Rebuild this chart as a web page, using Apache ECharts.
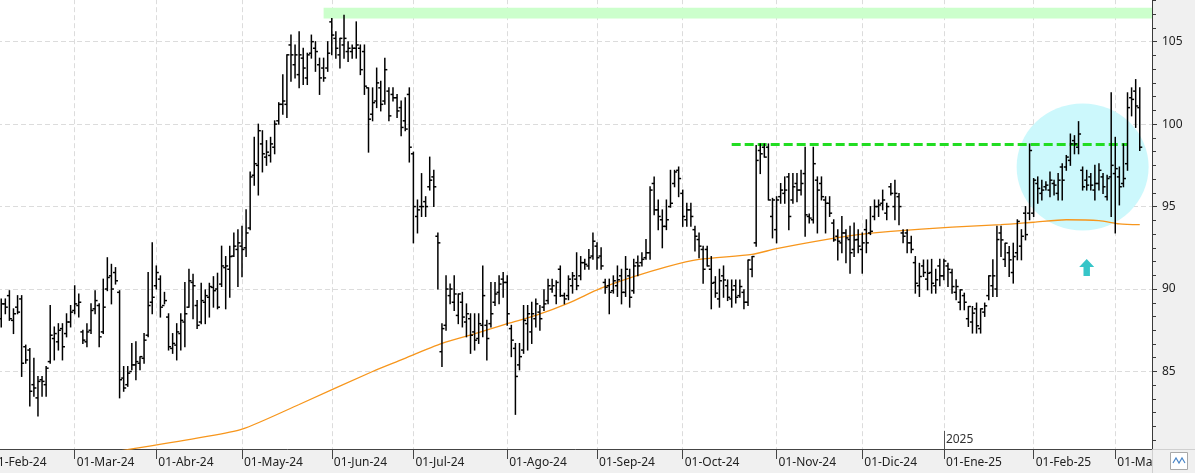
<!DOCTYPE html>
<html>
<head>
<meta charset="utf-8">
<script src="https://cdn.jsdelivr.net/npm/echarts@6/dist/echarts.min.js"></script>
<style>
  html, body { margin: 0; padding: 0; background: #f0f0f0; }
  #chart { width: 1195px; height: 473px; }
</style>
</head>
<body>
<div id="chart"></div>
<script>
(() => {

    const FONT = "'Noto Sans', sans-serif";
    const MESES = ['Ene', 'Feb', 'Mar', 'Abr', 'May', 'Jun', 'Jul', 'Ago', 'Sep', 'Oct', 'Nov', 'Dic'];
    const HOLIDAYS = ['2024-03-29', '2024-04-01', '2024-05-01', '2024-12-25', '2024-12-26', '2025-01-01'];
    const PAD = 3;          // first three sessions sit off the left edge
    const EXTRA = 3;        // empty slots after the last session

    // daily bars from the 4th session of Feb-24 on
    const OPEN = [
        88.2, 89.1, 89.6, 88.1, 88.9, 89.4, 86.5, 86.3, 84.2, 83.4,
        84.5, 84.2, 85.6, 87.0, 86.8, 87.6, 87.3, 88.0, 88.7, 89.0,
        87.4, 86.8, 87.5, 88.8, 89.0, 87.4, 90.0, 90.8, 91.0, 89.8,
        84.6, 84.2, 85.0, 85.4, 85.5, 85.8, 87.2, 89.2, 90.2, 90.6,
        89.0, 88.3, 86.4, 86.6, 87.3, 88.0, 88.9, 90.4, 89.0, 88.0,
        89.2, 89.5, 90.1, 90.0, 90.3, 91.3, 91.2, 92.0, 92.4, 92.6,
        92.5, 93.7, 96.9, 97.5, 98.8, 98.0, 98.1, 98.6, 100.2, 101.2,
        101.2, 104.8, 103.6, 103.0, 104.0, 102.8, 104.3, 104.6, 103.6, 103.4,
        103.4, 106.2, 105.2, 104.2, 104.8, 104.4, 104.4, 104.6, 104.6, 104.4,
        102.2, 100.6, 101.4, 102.2, 101.4, 102.0, 101.8, 101.6, 101.0, 100.2,
        101.8, 98.2, 94.4, 95.0, 95.3, 96.2, 96.8, 93.2, 86.2, 87.8,
        89.6, 89.2, 88.4, 89.2, 88.0, 88.2, 87.4, 87.0, 87.8, 87.8,
        87.9, 89.2, 89.8, 90.6, 90.4, 87.6, 86.4, 85.4, 86.3, 87.9,
        87.4, 88.2, 88.6, 88.9, 89.3, 90.0, 89.6, 91.2, 89.6, 89.6,
        90.2, 90.6, 90.8, 91.6, 91.4, 92.0, 92.6, 92.0, 90.4, 90.2,
        89.9, 90.2, 90.8, 89.8, 90.8, 89.9, 91.6, 91.6, 91.9, 92.2,
        96.4, 94.8, 94.2, 93.8, 95.0, 96.4, 97.2, 95.8, 94.2, 94.8,
        93.6, 93.0, 92.4, 92.4, 91.2, 90.4, 89.4, 90.8, 90.2, 89.4,
        90.2, 89.6, 89.8, 89.2, 91.2, 92.8, 98.4, 98.6, 98.6, 94.4,
        93.6, 95.6, 95.8, 96.8, 95.4, 96.4, 96.0, 97.0, 94.4, 94.2,
        96.6, 96.4, 95.4, 95.2, 94.0, 93.2, 92.8, 93.4, 93.0, 92.4,
        93.0, 92.4, 93.6, 93.4, 94.4, 95.0, 95.2, 94.6, 96.2, 95.0,
        95.6, 93.4, 93.4, 92.8, 91.6, 90.2, 91.4, 90.6, 91.0, 90.2,
        91.4, 90.8, 91.4, 91.0, 89.8, 89.2, 89.6, 88.2, 88.0, 88.8,
        87.6, 88.6, 89.6, 90.2, 90.0, 93.4, 91.8, 92.2, 91.0, 92.2,
        92.6, 94.6, 94.6, 94.6, 96.4, 95.8, 96.2, 96.0, 96.4, 95.8,
        97.4, 97.4, 97.8, 99.0, 98.6, 97.2, 96.6, 96.8, 96.0, 96.4,
        96.8, 95.6, 96.8, 97.0, 96.8, 96.4, 97.6, 101.6, 102.0, 101.0
    ];
    const HIGH = [
        89.4, 89.4, 89.9, 88.8, 89.6, 89.6, 86.6, 86.4, 85.8, 84.7,
        84.7, 85.3, 89.0, 87.7, 87.9, 87.9, 88.5, 89.0, 90.2, 89.7,
        87.5, 87.9, 89.1, 89.9, 89.1, 90.6, 91.9, 91.5, 91.3, 89.9,
        85.3, 85.3, 86.7, 86.8, 85.9, 87.3, 91.0, 92.8, 91.4, 90.8,
        89.8, 88.5, 87.3, 87.9, 88.5, 90.4, 91.2, 90.9, 89.3, 90.35,
        89.95, 90.35, 90.75, 90.96, 92.6, 91.97, 92.6, 93.4, 93.6, 93.8,
        94.8, 97.1, 99.2, 100.0, 99.6, 99.0, 99.2, 100.2, 101.3, 103.0,
        104.2, 105.4, 104.8, 105.6, 104.6, 104.3, 105.4, 105.0, 104.0, 104.0,
        105.0, 106.4, 105.6, 105.2, 106.6, 105.0, 104.8, 106.2, 104.8, 104.8,
        102.2, 102.2, 103.4, 102.6, 104.0, 102.2, 102.2, 101.8, 101.4, 101.6,
        102.2, 98.3, 95.4, 97.0, 95.6, 98.0, 97.2, 93.4, 87.9, 90.8,
        90.3, 90.8, 89.7, 89.8, 89.1, 88.5, 88.5, 88.5, 91.4, 88.1,
        90.4, 90.4, 90.8, 91.0, 90.8, 87.8, 86.7, 86.7, 89.0, 89.0,
        89.2, 89.4, 89.0, 89.96, 90.6, 90.6, 90.5, 91.4, 89.75, 90.8,
        91.0, 92.2, 91.97, 91.8, 92.4, 93.4, 92.8, 92.5, 90.6, 90.6,
        90.8, 91.4, 91.2, 91.97, 91.2, 91.8, 92.0, 92.2, 93.0, 96.2,
        96.8, 95.4, 94.8, 95.4, 97.2, 97.2, 97.4, 96.0, 95.2, 95.2,
        93.8, 93.4, 92.6, 92.6, 91.97, 90.75, 91.2, 91.4, 90.55, 90.55,
        90.55, 90.55, 89.95, 91.76, 91.97, 98.7, 98.8, 98.8, 98.8, 95.5,
        95.6, 96.4, 96.8, 97.0, 97.0, 97.0, 97.2, 98.6, 94.55, 98.6,
        96.8, 96.8, 95.6, 95.6, 94.2, 93.6, 94.4, 93.6, 93.8, 94.0,
        93.6, 93.4, 94.2, 95.0, 95.4, 95.4, 96.0, 95.2, 96.4, 96.6,
        95.8, 93.6, 93.6, 93.2, 91.97, 91.56, 91.76, 91.76, 91.8, 91.2,
        91.8, 91.8, 91.57, 91.2, 90.56, 89.95, 89.75, 88.94, 88.94, 89.15,
        88.8, 89.15, 90.8, 91.77, 93.8, 93.8, 92.78, 92.58, 92.78, 94.2,
        93.6, 95.0, 98.8, 96.7, 96.8, 96.6, 96.5, 97.1, 96.6, 97.0,
        97.6, 98.1, 99.4, 99.3, 100.15, 97.4, 97.2, 97.0, 97.5, 97.6,
        97.0, 96.9, 101.9, 99.2, 97.4, 98.8, 101.9, 102.2, 102.7, 102.2
    ];
    const LOW = [
        87.7, 88.5, 88.1, 87.3, 88.5, 84.7, 85.5, 82.9, 83.5, 82.3,
        83.5, 83.5, 85.5, 85.7, 86.3, 85.7, 87.1, 87.7, 88.5, 88.3,
        86.7, 86.5, 87.3, 88.5, 86.5, 87.3, 89.9, 89.1, 90.3, 83.4,
        83.8, 84.1, 85.1, 84.5, 85.1, 85.5, 87.1, 88.5, 90.0, 88.3,
        89.1, 86.3, 86.1, 85.7, 86.3, 86.5, 88.9, 88.2, 87.6, 87.9,
        87.9, 88.3, 88.9, 88.8, 90.15, 88.8, 89.5, 91.97, 90.15, 90.75,
        91.97, 93.6, 96.3, 95.7, 97.1, 97.5, 97.7, 98.2, 100.0, 100.6,
        100.4, 102.6, 102.8, 102.2, 102.4, 102.4, 104.0, 103.2, 101.8, 102.6,
        103.2, 104.2, 104.0, 103.4, 104.0, 103.8, 104.0, 104.0, 103.0, 101.8,
        98.3, 100.2, 101.0, 100.8, 101.2, 100.2, 101.4, 100.4, 99.3, 99.6,
        97.7, 92.8, 93.4, 94.4, 94.4, 96.0, 95.0, 90.0, 85.3, 87.5,
        89.1, 88.7, 87.9, 87.7, 87.1, 86.1, 86.3, 86.7, 87.1, 85.7,
        87.7, 89.0, 89.1, 89.5, 87.8, 85.9, 82.4, 85.1, 86.1, 86.3,
        86.7, 87.7, 87.5, 88.7, 89.1, 89.8, 89.1, 89.55, 89.1, 89.35,
        89.75, 89.96, 90.56, 91.2, 91.2, 91.8, 91.2, 91.2, 89.75, 88.5,
        89.75, 89.55, 89.1, 89.55, 88.9, 89.75, 90.8, 91.4, 91.8, 91.8,
        94.5, 93.6, 92.5, 93.6, 94.96, 96.2, 95.6, 93.8, 93.8, 93.8,
        92.3, 91.9, 90.35, 91.4, 88.8, 89.5, 88.9, 89.5, 89.3, 88.9,
        89.15, 89.5, 88.8, 89.0, 90.75, 92.6, 97.0, 98.0, 95.4, 93.1,
        92.8, 95.2, 95.2, 93.6, 95.2, 95.3, 95.7, 93.2, 94.0, 94.0,
        93.4, 95.4, 93.4, 94.4, 92.9, 91.76, 92.2, 91.6, 90.96, 91.97,
        92.2, 90.96, 92.2, 93.3, 94.2, 94.4, 94.8, 94.2, 95.7, 94.2,
        93.9, 92.8, 92.2, 92.2, 89.75, 89.55, 90.76, 89.95, 89.75, 89.75,
        90.2, 90.56, 90.15, 89.75, 89.35, 88.74, 88.74, 87.73, 87.33, 87.33,
        87.33, 88.34, 89.35, 89.55, 89.55, 91.97, 91.37, 90.76, 90.36, 91.77,
        91.77, 92.98, 94.2, 94.4, 95.2, 95.4, 96.0, 95.6, 95.7, 95.4,
        95.4, 97.2, 97.5, 98.2, 98.2, 96.0, 96.0, 96.0, 95.4, 96.0,
        95.8, 95.4, 94.4, 93.4, 95.1, 96.2, 97.2, 100.5, 99.8, 98.4
    ];
    const CLOSE = [
        89.1, 88.9, 88.2, 88.5, 88.6, 85.5, 85.7, 83.8, 84.0, 84.4,
        84.4, 85.2, 87.2, 87.3, 87.5, 86.5, 88.0, 88.6, 89.1, 89.2,
        86.9, 87.4, 88.7, 89.3, 87.1, 88.9, 90.7, 90.0, 90.5, 84.5,
        84.0, 84.9, 85.4, 85.6, 85.9, 86.9, 89.0, 89.5, 91.0, 88.9,
        89.3, 86.5, 86.7, 87.4, 88.1, 88.5, 90.5, 90.2, 87.8, 89.3,
        89.6, 90.15, 89.9, 88.9, 91.4, 91.4, 91.97, 92.6, 92.8, 92.4,
        93.4, 96.8, 97.6, 99.6, 98.2, 98.3, 98.8, 100.0, 101.2, 101.4,
        104.2, 104.2, 104.2, 104.2, 103.4, 104.2, 105.0, 104.4, 102.8, 102.8,
        104.3, 105.4, 104.6, 105.2, 105.2, 104.6, 104.6, 104.8, 103.3, 102.3,
        100.3, 101.3, 102.5, 101.2, 103.3, 100.5, 101.6, 100.8, 99.8, 99.7,
        98.6, 95.0, 94.8, 95.0, 95.0, 96.6, 96.2, 92.8, 87.6, 90.0,
        90.0, 89.7, 89.7, 88.3, 88.5, 87.2, 86.9, 87.9, 89.6, 87.0,
        88.5, 89.7, 90.3, 90.4, 88.5, 86.9, 84.7, 85.9, 88.1, 88.5,
        88.5, 89.1, 88.2, 89.1, 90.2, 90.2, 90.4, 89.6, 89.4, 90.6,
        90.8, 90.2, 91.6, 91.5, 91.9, 92.9, 91.9, 91.4, 90.1, 89.8,
        90.5, 90.56, 89.8, 91.2, 89.5, 91.4, 91.4, 91.8, 92.2, 96.0,
        94.8, 94.4, 93.8, 94.2, 95.2, 97.1, 96.7, 94.4, 94.8, 94.4,
        93.2, 92.6, 91.2, 91.4, 90.35, 89.75, 90.5, 90.55, 89.5, 89.95,
        89.5, 90.15, 89.2, 91.76, 91.97, 97.8, 98.2, 98.0, 95.4, 95.4,
        95.4, 96.0, 96.0, 94.4, 96.2, 96.0, 96.4, 94.5, 94.3, 97.6,
        96.0, 95.6, 95.2, 94.6, 92.98, 92.9, 93.4, 93.1, 92.2, 92.98,
        92.6, 92.8, 92.8, 93.5, 95.0, 95.1, 95.4, 95.0, 95.8, 95.8,
        95.0, 93.2, 92.8, 92.4, 90.35, 90.76, 91.0, 90.96, 90.35, 90.56,
        90.8, 91.7, 91.2, 90.15, 90.15, 89.95, 89.2, 88.94, 88.54, 87.77,
        88.8, 88.98, 90.8, 90.8, 93.0, 92.98, 92.78, 91.77, 91.97, 94.1,
        93.2, 93.3, 98.4, 96.6, 96.1, 96.0, 96.3, 96.6, 96.3, 96.6,
        96.6, 98.0, 98.8, 98.8, 99.4, 96.2, 96.3, 96.3, 96.4, 97.2,
        96.2, 96.7, 97.5, 97.3, 96.2, 96.7, 101.0, 101.5, 101.1, 98.6
    ];

    // orange moving average, sampled at these session indexes
    const MA_IDX = [0, 35, 52, 62, 76, 94, 101, 111, 120, 127, 134, 142, 150, 158,
                    166, 174, 187, 193, 205, 213, 221, 236, 248, 256, 264, 272, 277, 282];
    const MA_VAL = [78.9, 80.3, 81.0, 81.5, 83.0, 85.0, 85.7, 86.7, 87.35, 87.9, 88.4, 89.15, 90.05, 90.75,
                    91.35, 91.8, 92.1, 92.45, 93.0, 93.3, 93.5, 93.75, 93.9, 94.05, 94.2, 94.15, 93.95, 93.9];

    const LAST_CLOSE = '98,6';
    const LAST_MA = '93,9';
    const RESIST = 98.8;
    const TOP_BAND = [106.4, 107.05];

    // trading calendar (categories)
    function tradingDays(from, to) {
        const out = [];
        const d = new Date(from + 'T00:00:00Z');
        const end = new Date(to + 'T00:00:00Z');
        while (d <= end) {
            const wd = d.getUTCDay();
            const iso = d.toISOString().slice(0, 10);
            if (wd !== 0 && wd !== 6 && !HOLIDAYS.includes(iso)) out.push(iso);
            d.setUTCDate(d.getUTCDate() + 1);
        }
        return out;
    }
    const dates = tradingDays('2024-02-01', '2025-03-11');
    const categories = dates.concat(Array.from({length: EXTRA}, (_, i) => 'pad' + i));
    const monthStarts = new Set();
    dates.forEach((d, i) => {
        if (i === 0 || d.slice(0, 7) !== dates[i - 1].slice(0, 7)) monthStarts.add(i);
    });
    const isMonth = (idx) => monthStarts.has(idx);
    const fmtMonth = (val) => {
        const p = String(val).split('-');
        return '01-' + MESES[+p[1] - 1] + '-' + p[0].slice(2);
    };

    const ohlc = [];
    CLOSE.forEach((c, j) => {
        ohlc.push([j + PAD, OPEN[j], HIGH[j], LOW[j], c]);
    });
    const maData = MA_IDX.map((k, j) => [k, MA_VAL[j]]);

    function renderBar(params, api) {
        const i = api.value(0);
        const o = api.coord([i, api.value(1)]);
        const h = api.coord([i, api.value(2)]);
        const l = api.coord([i, api.value(3)]);
        const c = api.coord([i, api.value(4)]);
        const style = {stroke: '#000', lineWidth: 1.5};
        return {
            type: 'group',
            children: [
                {type: 'line', shape: {x1: h[0], y1: h[1] - 0.5, x2: l[0], y2: l[1] + 0.5}, style},
                {type: 'line', shape: {x1: o[0] - 2.5, y1: o[1], x2: o[0], y2: o[1]}, style},
                {type: 'line', shape: {x1: c[0], y1: c[1], x2: c[0] + 2.5, y2: c[1]}, style}
            ]
        };
    }

    const priceLabel = (txt) => ({
        show: true, position: 'end', distance: 1,
        formatter: '{a|←}{b|' + txt + '}',
        rich: {
            a: {color: '#555', fontSize: 10, padding: [0, 2, 0, 0], fontFamily: FONT},
            b: {color: '#fff', backgroundColor: '#3d8fe6', padding: [3, 3, 2, 3], fontSize: 12, fontFamily: FONT}
        }
    });

    const chart = echarts.init(document.getElementById('chart'), null, {renderer: 'canvas'});
    chart.setOption({
        animation: false,
        backgroundColor: '#f0f0f0',
        textStyle: {fontFamily: FONT},
        grid: {left: -11, right: 43, top: -40.8, bottom: 24, outerBoundsMode: 'none', containLabel: false,
               show: true, backgroundColor: '#fff', borderWidth: 0},
        xAxis: {
            type: 'category', data: categories, boundaryGap: false,
            axisLine: {lineStyle: {color: '#444'}},
            axisTick: {show: true, interval: isMonth, length: 10, lineStyle: {color: '#444'}},
            axisLabel: {interval: isMonth, formatter: fmtMonth, align: 'left', padding: [0, 0, 0, 2],
                        margin: 8, color: '#222', fontSize: 12},
            splitLine: {show: true, interval: isMonth, lineStyle: {type: [5, 3], color: '#dcdcdc'}}
        },
        yAxis: {
            type: 'value', position: 'right', min: 80.3, max: 110, splitNumber: 5,
            axisLine: {show: true, lineStyle: {color: '#3a3a3a'}},
            axisTick: {show: true, length: 5, lineStyle: {color: '#3a3a3a'}},
            minorTick: {show: true, splitNumber: 6, length: 4, lineStyle: {color: '#3a3a3a'}},
            axisLabel: {showMinLabel: false, showMaxLabel: false, margin: 10, color: '#222', fontSize: 12},
            splitLine: {show: true, lineStyle: {type: [5, 3], color: '#dcdcdc'}}
        },
        series: [
            {
                name: 'media', type: 'line', z: 6, data: maData,
                showSymbol: false, smooth: 0.25, silent: true,
                lineStyle: {color: '#f7961c', width: 1.3},
                markArea: {
                    silent: true,
                    itemStyle: {color: '#ccffcc'},
                    data: [[{coord: [82, TOP_BAND[1]]}, {coord: [285, TOP_BAND[0]]}]]
                },
                markLine: {
                    silent: true, symbol: ['none', 'none'],
                    label: {show: false},
                    data: [
                        {yAxis: 98.6, lineStyle: {opacity: 0}, label: priceLabel(LAST_CLOSE)},
                        {yAxis: 93.9, lineStyle: {opacity: 0}, label: priceLabel(LAST_MA)},
                        [{coord: [182, RESIST], lineStyle: {color: '#22dd22', width: 3, type: [9, 4]}},
                         {coord: [279, RESIST]}],
                        [{coord: [234, 80.3], lineStyle: {color: '#555', width: 1, type: 'solid'}},
                         {coord: [234, 81.4]}]
                    ]
                },
                markPoint: {
                    z: 1, silent: true,
                    data: [
                        {coord: [268, 97.4], symbol: 'circle', symbolSize: [132, 127],
                         itemStyle: {color: '#ccf8fc'}, label: {show: false}},
                        {coord: [269, 91.3], symbol: 'path://M7,0 L14,8 L10,8 L10,17 L4,17 L4,8 L0,8 Z',
                         symbolSize: [15, 17], itemStyle: {color: '#36c5c8'}, label: {show: false}},
                        {coord: [234, 80.85], symbol: 'rect', symbolSize: 0,
                         label: {show: true, position: 'right', distance: 2, formatter: '2025',
                                 color: '#333', fontSize: 12}}
                    ]
                }
            },
            {
                name: 'precio', type: 'custom', z: 7, data: ohlc,
                dimensions: ['idx', 'open', 'high', 'low', 'close'],
                encode: {x: 0, y: [1, 2, 3, 4]},
                renderItem: renderBar, clip: true, silent: true
            }
        ],
        graphic: [
            {type: 'rect', z: 100, shape: {x: 1152.5, y: 449.5, width: 43, height: 24},
             style: {fill: '#f0f0f0', stroke: '#d0d0d0', lineWidth: 1}},
            {type: 'rect', z: 101, shape: {x: 1170.5, y: 452.5, width: 17, height: 17},
             style: {fill: '#fff', stroke: '#a8a8a8', lineWidth: 1}},
            {type: 'polyline', z: 102,
             shape: {points: [[1173, 463], [1176, 458], [1179, 463], [1182, 458], [1185, 463]]},
             style: {stroke: '#4a86c8', lineWidth: 1.2, fill: null}}
        ]
    });
})();
</script>
</body>
</html>
